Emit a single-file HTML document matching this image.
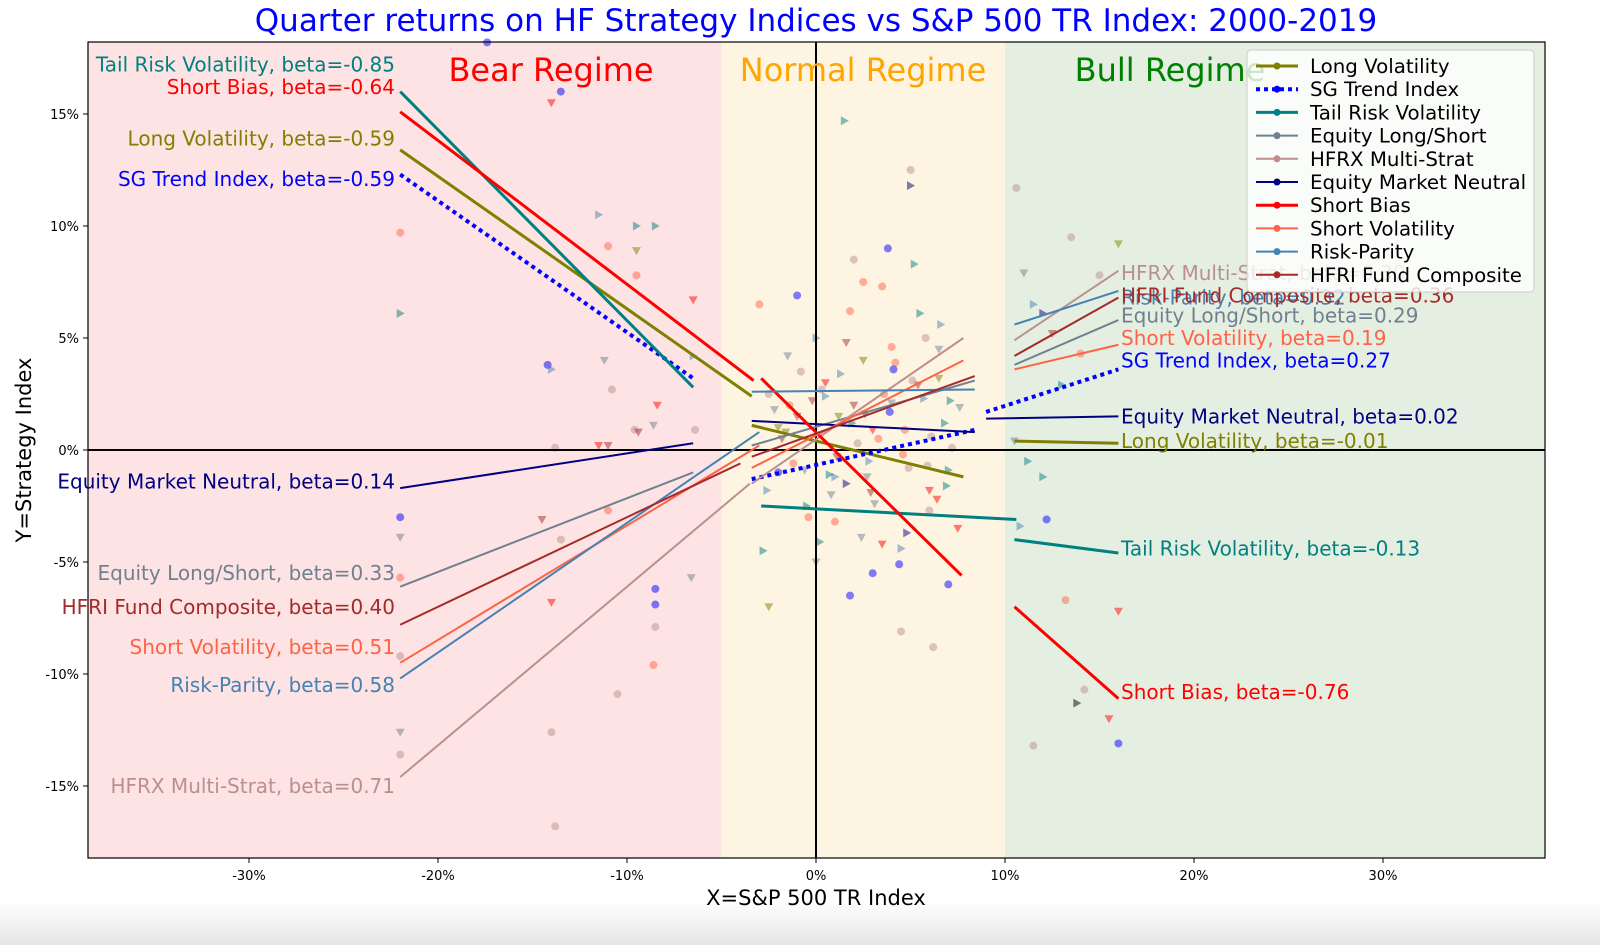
<!DOCTYPE html>
<html><head><meta charset="utf-8"><style>
body{margin:0;background:#fff;width:1600px;height:945px;overflow:hidden;font-family:"Liberation Sans","DejaVu Sans",sans-serif}
svg text{font-family:"DejaVu Sans","Liberation Sans",sans-serif}
</style></head><body>
<svg id="chart" width="1600" height="945" xmlns="http://www.w3.org/2000/svg">
<defs><linearGradient id="fade" x1="0" y1="0" x2="0" y2="1"><stop offset="0" stop-color="#fff"/><stop offset="1" stop-color="#e6e6e6"/></linearGradient></defs>
<rect x="0" y="900" width="1600" height="45" fill="url(#fade)"/>
</svg>
<script>
const names=["Long Volatility","SG Trend Index","Tail Risk Volatility","Equity Long/Short","HFRX Multi-Strat","Equity Market Neutral","Short Bias","Short Volatility","Risk-Parity","HFRI Fund Composite"];
const colors=["#808000","#0000ff","#008080","#708090","#bc8f8f","#000080","#ff0000","#ff6347","#4682b4","#a52a2a"];
const widths=[3,4,3,2,2,2,3,2,2,2];
const bearLines=[[-22,13.4,-3.4,2.4],[-22,12.3,-6.5,3.2],[-22,16.0,-6.5,2.8],[-22,-6.1,-6.5,-1.0],[-22,-14.6,-3.5,-1.5],[-22,-1.7,-6.5,0.3],[-22,15.1,-3.3,3.1],[-22,-9.5,-3,0.2],[-22,-10.2,-3,0.8],[-22,-7.8,-4,-0.6]];
const normalLines=[[-3.4,1.1,7.8,-1.2],[-3.4,-1.3,8.4,0.9],[-2.9,-2.5,10.6,-3.1],[-3.4,0.2,8.4,3.1],[-3.4,-1.5,7.8,5.0],[-3.4,1.3,8.4,0.8],[-2.9,3.2,7.7,-5.6],[-3.4,-0.8,7.8,4.0],[-3.4,2.6,8.4,2.7],[-3.4,-0.3,8.4,3.3]];
const bullLines=[[10.5,0.4,16,0.3],[9,1.7,16,3.6],[10.5,-4.0,16,-4.6],[10.5,3.8,16,5.8],[10.5,4.9,16,8.0],[9,1.4,16,1.5],[10.5,-7.0,16,-11.1],[10.5,3.6,16,4.7],[10.5,5.6,16,7.1],[10.5,4.2,16,6.8]];
const bearLabels=["Long Volatility, beta=-0.59","SG Trend Index, beta=-0.59","Tail Risk Volatility, beta=-0.85","Equity Long/Short, beta=0.33","HFRX Multi-Strat, beta=0.71","Equity Market Neutral, beta=0.14","Short Bias, beta=-0.64","Short Volatility, beta=0.51","Risk-Parity, beta=0.58","HFRI Fund Composite, beta=0.40"];
const bearLabelY=[13.9,12.1,17.2,-5.5,-15.0,-1.4,16.2,-8.8,-10.5,-7.0];
const bullLabels=["Long Volatility, beta=-0.01","SG Trend Index, beta=0.27","Tail Risk Volatility, beta=-0.13","Equity Long/Short, beta=0.29","HFRX Multi-Strat, beta=0.30","Equity Market Neutral, beta=0.02","Short Bias, beta=-0.76","Short Volatility, beta=0.19","Risk-Parity, beta=0.32","HFRI Fund Composite, beta=0.36"];
const bullLabelY=[0.4,4.0,-4.4,6.0,7.9,1.5,-10.8,5.0,6.8,6.9];
const xTicks=[-30,-20,-10,0,10,20,30];
const yTicks=[-15,-10,-5,0,5,10,15];
const ptsX=[-22,-22,-22,-22,-22,-22,-22,-22,-17.4,-14,-13.5,-14.2,-14,-13.8,-14.5,-13.5,-14,-14,-13.8,-11.5,-11,-11.2,-10.8,-11,-11.5,-11,-10.5,-9.5,-9.5,-9.5,-9.6,-9.4,-8.5,-8.5,-8.4,-8.6,-8.5,-8.5,-8.6,-6.5,-6.5,-6.4,-6.6,
-3,-2.5,-2,-1.5,-1,-0.5,0,0.5,1,1.5,1.6,2,2.5,3,3.5,4,4.5,5,5.5,6,6.5,7,-2.8,-1.8,-0.8,0.8,1.8,2.8,3.8,4.8,5.8,6.8,7.5,-2,0,2,4,6,-1,1,3,5,7,-2.5,0.5,2.5,4.5,6.5,1.8,3.5,5.2,2.6,4.2,6.2,
-2.2,-1.2,-0.2,0.7,1.3,2.2,3.1,3.9,4.6,5.4,6.1,6.9,7.6,-2.6,-1.6,-0.4,0.3,1.1,1.9,2.7,3.3,4.1,4.9,5.7,6.4,7.2,-1.4,0.2,1.6,2.4,3.6,4.4,5.1,6.6,-0.6,1.2,2.9,4.7,5.9,7.1,
10.6,11,11.5,12,12.5,13,13.5,14,15,16,10.5,11.2,12.2,13.2,14.2,15.5,16,10.8,12,16,11.5,13.8];
const ptsY=[9.7,6.1,-3.0,-3.9,-5.7,-9.2,-12.6,-13.6,18.2,15.5,16.0,3.8,3.6,0.1,-3.1,-4.0,-6.8,-12.6,-16.8,10.5,9.1,4.0,2.7,0.2,0.2,-2.7,-10.9,8.9,10.0,7.8,0.9,0.8,-6.2,10.0,2.0,1.1,-6.9,-7.9,-9.6,6.7,4.2,0.9,-5.7,
6.5,2.5,-1.0,4.2,1.5,-2.5,5.0,3.0,-3.2,14.7,-1.5,8.5,4.0,-5.5,7.3,2.1,-4.4,12.5,6.1,-1.8,3.2,-6.0,-4.5,0.5,3.5,-2.0,6.2,-0.5,9.0,-3.7,5.0,1.2,-3.5,1.0,-5.0,2.0,4.6,-2.7,6.9,-1.2,0.9,11.8,-0.9,-7.0,2.4,7.5,-8.1,4.5,-6.5,-4.2,8.3,1.6,3.9,-8.8,
1.8,-0.6,2.2,-1.1,3.4,0.3,-2.4,1.7,-0.2,2.9,0.6,-1.6,1.9,-1.8,0.8,-3.0,2.7,-0.3,1.2,-1.2,0.5,3.6,-0.8,2.3,-2.2,0.1,2.0,-4.1,4.8,-3.9,2.5,-5.1,3.1,5.6,-0.9,1.5,-1.9,0.9,-0.7,2.2,
11.7,7.9,6.5,6.1,5.2,2.9,9.5,4.3,7.8,9.2,0.4,-0.5,-3.1,-6.7,-10.7,-12.0,-13.1,-3.4,-1.2,-7.2,-13.2,-11.3];
const ptsS=[7,2,1,3,7,4,3,4,1,6,1,1,8,4,9,4,6,4,4,8,7,3,4,9,6,7,4,0,2,7,4,9,1,2,6,3,1,4,7,6,8,4,3,
7,4,1,3,9,2,8,6,7,2,5,4,0,1,7,3,8,4,2,6,0,1,2,9,4,3,7,8,1,5,4,2,6,0,3,9,7,4,1,8,6,5,2,0,8,7,4,3,1,6,2,9,7,
4,3,7,9,2,8,4,3,1,7,9,4,2,3,8,0,7,4,9,2,3,7,1,4,8,6,4,7,2,9,3,7,1,4,8,3,0,9,7,4,
2,4,3,8,5,9,2,4,7,4,0,3,2,1,7,4,6,1,8,2,6,4];
const NS="http://www.w3.org/2000/svg";
const svg=document.getElementById('chart');
const L=88,R=1545,T=42,B=858;
const X=v=>816+v*18.9, Y=v=>450-v*22.4;
function mk(tag,attrs,parent){const e=document.createElementNS(NS,tag);for(const k in attrs)e.setAttribute(k,attrs[k]);(parent||svg).appendChild(e);return e;}
let r;
r=mk('rect',{x:L,y:T,width:X(-5)-L,height:B-T,fill:'#fde3e3'});


r=mk('rect',{x:X(-5),y:T,width:X(10)-X(-5),height:B-T,fill:'#fdf4e2'});


r=mk('rect',{x:X(10),y:T,width:R-X(10),height:B-T,fill:'#e4efe2'});


for(let i=0;i<ptsX.length;i++){
  const s=ptsS[i],cx=X(ptsX[i]),cy=Y(ptsY[i]);let p;
  if(s%3===0) p=mk('path',{d:`M${cx-4.5},${cy-3.5}L${cx+4.5},${cy-3.5}L${cx},${cy+4.5}Z`,fill:colors[s],opacity:0.5});
  else if(s%3===1) p=mk('circle',{cx:cx,cy:cy,r:4,fill:colors[s],opacity:0.5});
  else p=mk('path',{d:`M${cx-3.5},${cy-4.5}L${cx+4.5},${cy}L${cx-3.5},${cy+4.5}Z`,fill:colors[s],opacity:0.5});
  
  
}
r=mk('line',{x1:L,x2:R,y1:Y(0),y2:Y(0),stroke:'#000','stroke-width':2});


r=mk('line',{x1:X(0),x2:X(0),y1:T,y2:B,stroke:'#000','stroke-width':2});


[bearLines,normalLines,bullLines].forEach((set,ri)=>{
  set.forEach((s,i)=>{
    const l=mk('line',{x1:X(s[0]),y1:Y(s[1]),x2:X(s[2]),y2:Y(s[3]),stroke:colors[i],'stroke-width':widths[i]});
    if(i===1) l.setAttribute('stroke-dasharray','4,4');
    
    
  });
});
r=mk('rect',{x:L,y:T,width:R-L,height:B-T,fill:'none',stroke:'#000','stroke-width':1.2});


bearLabels.forEach((t,i)=>{
  const e=mk('text',{x:395,y:Y(bearLabelY[i])+7,'text-anchor':'end','font-size':20,fill:colors[i]});e.textContent=t;
  
  
});
bullLabels.forEach((t,i)=>{
  const e=mk('text',{x:1121,y:Y(bullLabelY[i])+7,'font-size':20,fill:colors[i]});e.textContent=t;
  
  
});
xTicks.forEach(v=>{
  const tk=mk('line',{x1:X(v),x2:X(v),y1:B,y2:B+5,stroke:'#000'});
  
  
  const e=mk('text',{x:X(v),y:B+22,'text-anchor':'middle','font-size':13});e.textContent=v+'%';
  
  
});
yTicks.forEach(v=>{
  const tk=mk('line',{x1:L-5,x2:L,y1:Y(v),y2:Y(v),stroke:'#000'});
  
  
  const e=mk('text',{x:L-9,y:Y(v)+5,'text-anchor':'end','font-size':13});e.textContent=v+'%';
  
  
});
[["Bear Regime",551,"#ff0000","bear-regime-title"],["Normal Regime",863,"#ffa500","normal-regime-title"],["Bull Regime",1170,"#008000","bull-regime-title"]].forEach(a=>{
  const e=mk('text',{x:a[1],y:81,'text-anchor':'middle','font-size':32,fill:a[2]});e.textContent=a[0];
  
  
});
const lg=mk('g',{});


mk('rect',{x:1247,y:50,width:287,height:242,rx:4,fill:'#fff','fill-opacity':0.8,stroke:'#ccc'},lg);
names.forEach((n,i)=>{
  const y=66+i*23.2;
  const g=mk('g',{},lg);
  
  
  const l=mk('line',{x1:1256,x2:1298,y1:y,y2:y,stroke:colors[i],'stroke-width':widths[i]},g);
  if(i===1) l.setAttribute('stroke-dasharray','4,4');
  mk('circle',{cx:1277,cy:y,r:3.5,fill:colors[i]},g);
  const t=mk('text',{x:1310,y:y+7,'font-size':19.8},g);t.textContent=n;
});
let e=mk('text',{x:816,y:31,'text-anchor':'middle','font-size':31,fill:'#0000ff'});e.textContent="Quarter returns on HF Strategy Indices vs S&P 500 TR Index: 2000-2019";


e=mk('text',{x:816,y:905,'text-anchor':'middle','font-size':21});e.textContent="X=S&P 500 TR Index";


e=mk('text',{x:0,y:0,'text-anchor':'middle','font-size':21,transform:`translate(31,450) rotate(-90)`});e.textContent="Y=Strategy Index";


</script>
</body></html>
